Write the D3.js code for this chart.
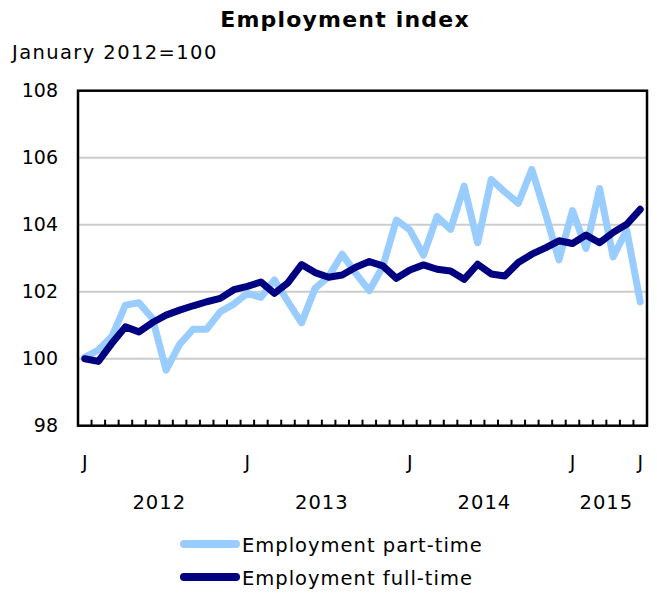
<!DOCTYPE html>
<html>
<head>
<meta charset="utf-8">
<script src="https://cdn.jsdelivr.net/npm/d3@7"></script>
<style>
  html, body { margin: 0; padding: 0; background: #fff; }
  svg { display: block; font-family: "DejaVu Sans", Verdana, sans-serif; }
</style>
</head>
<body>
<svg id="chart" width="657" height="593"></svg>
<script>
// ---- Data (Jan 2012 – Jun 2015, monthly) ----
const months = [
  "2012-01","2012-02","2012-03","2012-04","2012-05","2012-06","2012-07","2012-08","2012-09","2012-10","2012-11","2012-12",
  "2013-01","2013-02","2013-03","2013-04","2013-05","2013-06","2013-07","2013-08","2013-09","2013-10","2013-11","2013-12",
  "2014-01","2014-02","2014-03","2014-04","2014-05","2014-06","2014-07","2014-08","2014-09","2014-10","2014-11","2014-12",
  "2015-01","2015-02","2015-03","2015-04","2015-05","2015-06"
];
const partTime = [
  100.04, 100.26, 100.66, 101.60, 101.67, 101.20, 99.66, 100.43, 100.88, 100.88, 101.40, 101.63,
  101.95, 101.83, 102.35, 101.70, 101.07, 102.10, 102.45, 103.12, 102.55, 102.03, 102.75, 104.14,
  103.84, 103.09, 104.24, 103.86, 105.15, 103.46, 105.35, 104.98, 104.64, 105.65, 104.34, 102.95,
  104.42, 103.29, 105.08, 103.04, 103.84, 101.70
];
const fullTime = [
  100.00, 99.92, 100.46, 100.95, 100.80, 101.08, 101.30, 101.45, 101.58, 101.70, 101.80, 102.06,
  102.16, 102.29, 101.95, 102.27, 102.81, 102.57, 102.43, 102.50, 102.73, 102.90, 102.77, 102.40,
  102.65, 102.80, 102.67, 102.62, 102.37, 102.82, 102.53, 102.47, 102.87, 103.12, 103.31, 103.52,
  103.44, 103.69, 103.46, 103.77, 104.01, 104.46
];
const yTicks = [98, 100, 102, 104, 106, 108];
const monthTickLabels = [
  {month: "2012-01", label: "J"}, {month: "2013-01", label: "J"}, {month: "2014-01", label: "J"},
  {month: "2015-01", label: "J"}, {month: "2015-06", label: "J"}
];
const years = ["2012", "2013", "2014", "2015"];
const seriesNames = ["Employment part-time", "Employment full-time"];
const seriesColors = ["#99ccff", "#000080"];
const titleText = "Employment index";
const unitText = "January 2012=100";

// ---- Layout ----
const svg = d3.select("#chart");
const L = 78, R = 647, T = 90.7, B = 425.7;

const x = d3.scaleBand().domain(months).range([L, R]).paddingInner(0).paddingOuter(0);
const y = d3.scaleLinear().domain([98, 108]).range([B, T]);
const cx = m => x(m) + x.bandwidth() / 2;

// title
svg.append("text").attr("x", 345).attr("y", 27).attr("text-anchor", "middle")
  .attr("font-weight", "bold").attr("font-size", 22).attr("letter-spacing", 1.2)
  .attr("fill", "#000").text(titleText);
svg.append("text").attr("x", 12).attr("y", 59).attr("font-size", 19.5).attr("letter-spacing", 1.4)
  .attr("fill", "#000").text(unitText);

// gridlines
svg.append("g").selectAll("line").data(yTicks.filter(d => d > 98 && d < 108)).join("line")
  .attr("x1", L).attr("x2", R).attr("y1", d => y(d)).attr("y2", d => y(d))
  .attr("stroke", "#cccccc").attr("stroke-width", 2);

// y axis labels
const yAxis = d3.axisLeft(y).tickValues(yTicks).tickSize(0).tickPadding(20);
const gy = svg.append("g").attr("transform", `translate(${L},0)`).call(yAxis);
gy.select(".domain").remove();
gy.selectAll("text").attr("font-size", 19).attr("fill", "#000").style("font-family", "'DejaVu Sans', Verdana, sans-serif");

// month ticks on bottom (pointing up)
const boundaries = months.map(m => x(m)).concat([R]);
svg.append("g").selectAll("line").data(boundaries).join("line")
  .attr("x1", d => d).attr("x2", d => d).attr("y1", B).attr("y2", B - 6)
  .attr("stroke", "#000").attr("stroke-width", 2);

// J labels
svg.append("g").selectAll("text").data(monthTickLabels).join("text")
  .attr("x", d => cx(d.month)).attr("y", 469).attr("text-anchor", "middle")
  .attr("font-size", 19).attr("fill", "#000").text(d => d.label);

// year labels centered on the year span
svg.append("g").selectAll("text").data(years).join("text")
  .attr("x", yr => {
    const ms = months.filter(m => m.startsWith(yr));
    return (x(ms[0]) + x(ms[ms.length - 1]) + x.bandwidth()) / 2;
  })
  .attr("y", 509).attr("text-anchor", "middle")
  .attr("font-size", 19.5).attr("letter-spacing", 1).attr("fill", "#000").text(d => d);

// lines
const line = d3.line().x((d, i) => cx(months[i])).y(d => y(d)).curve(d3.curveLinear);
[partTime, fullTime].forEach((s, k) => {
  svg.append("path").datum(s).attr("d", line).attr("fill", "none")
    .attr("stroke", seriesColors[k]).attr("stroke-width", 7)
    .attr("stroke-linejoin", "round").attr("stroke-linecap", "round");
});

// plot frame
svg.append("rect").attr("x", L).attr("y", T).attr("width", R - L).attr("height", B - T)
  .attr("fill", "none").attr("stroke", "#000").attr("stroke-width", 2.5);

// legend
const legend = svg.append("g");
seriesNames.forEach((name, k) => {
  const ly = 544 + k * 33;
  legend.append("line").attr("x1", 184).attr("x2", 236).attr("y1", ly).attr("y2", ly)
    .attr("stroke", seriesColors[k]).attr("stroke-width", 8).attr("stroke-linecap", "round");
  legend.append("text").attr("x", 242).attr("y", ly + 8).attr("font-size", 19.5)
    .attr("letter-spacing", 1).attr("fill", "#000").text(name);
});
</script>
</body>
</html>
